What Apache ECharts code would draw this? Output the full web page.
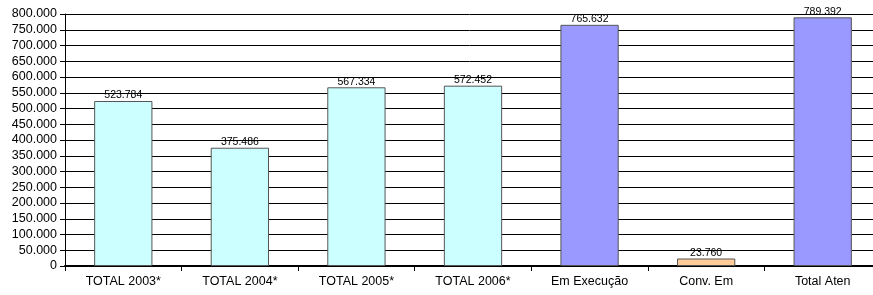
<!DOCTYPE html>
<html>
<head>
<meta charset="utf-8">
<script src="https://cdn.jsdelivr.net/npm/echarts@6/dist/echarts.min.js"></script>
<style>
html, body { margin: 0; padding: 0; background: #fff; }
#chart { width: 873px; height: 295px; }
</style>
</head>
<body>
<div id="chart"></div>
<script>
const categories = ['TOTAL 2003*', 'TOTAL 2004*', 'TOTAL 2005*', 'TOTAL 2006*', 'Em Execução', 'Conv. Em', 'Total Aten']
const values = [523784, 375486, 567334, 572452, 765632, 23760, 789392]
const barColors = ['#CCFFFF', '#CCFFFF', '#CCFFFF', '#CCFFFF', '#9999FF', '#FFCC99', '#9999FF']

function fmt(v) {
    return v === 0 ? '0' : String(v).replace(/\B(?=(\d{3})+(?!\d))/g, '.')
}

let chart = echarts.init(document.getElementById('chart'))
chart.setOption({
    animation: false,
    grid: {
        left: 65,
        width: 816,
        top: 14,
        bottom: 29,
        outerBoundsMode: 'none'
    },
    xAxis: {
        type: 'category',
        data: categories,
        axisLine: { lineStyle: { color: '#000', width: 2 } },
        axisTick: { show: true, length: 5, lineStyle: { color: '#000' } },
        axisLabel: { color: '#000', fontFamily: 'Arial', fontSize: 12.5, margin: 9 }
    },
    yAxis: {
        type: 'value',
        min: 0,
        max: 800000,
        interval: 50000,
        axisLine: { show: true, lineStyle: { color: '#000' } },
        axisTick: { show: true, length: 5, lineStyle: { color: '#000' } },
        splitLine: { lineStyle: { color: '#000', width: 1 } },
        axisLabel: { color: '#000', fontFamily: 'Arial', fontSize: 12.5, margin: 8, formatter: fmt }
    },
    series: [{
        type: 'bar',
        barWidth: '50%',
        data: values.map((v, i) => ({
            value: v,
            itemStyle: { color: barColors[i] }
        })),
        itemStyle: { borderColor: '#555', borderWidth: 1 },
        label: {
            show: true,
            position: 'top',
            distance: 0,
            color: '#000',
            fontFamily: 'Arial',
            fontSize: 10.5,
            formatter: p => fmt(p.value)
        }
    }]
})
</script>
</body>
</html>
